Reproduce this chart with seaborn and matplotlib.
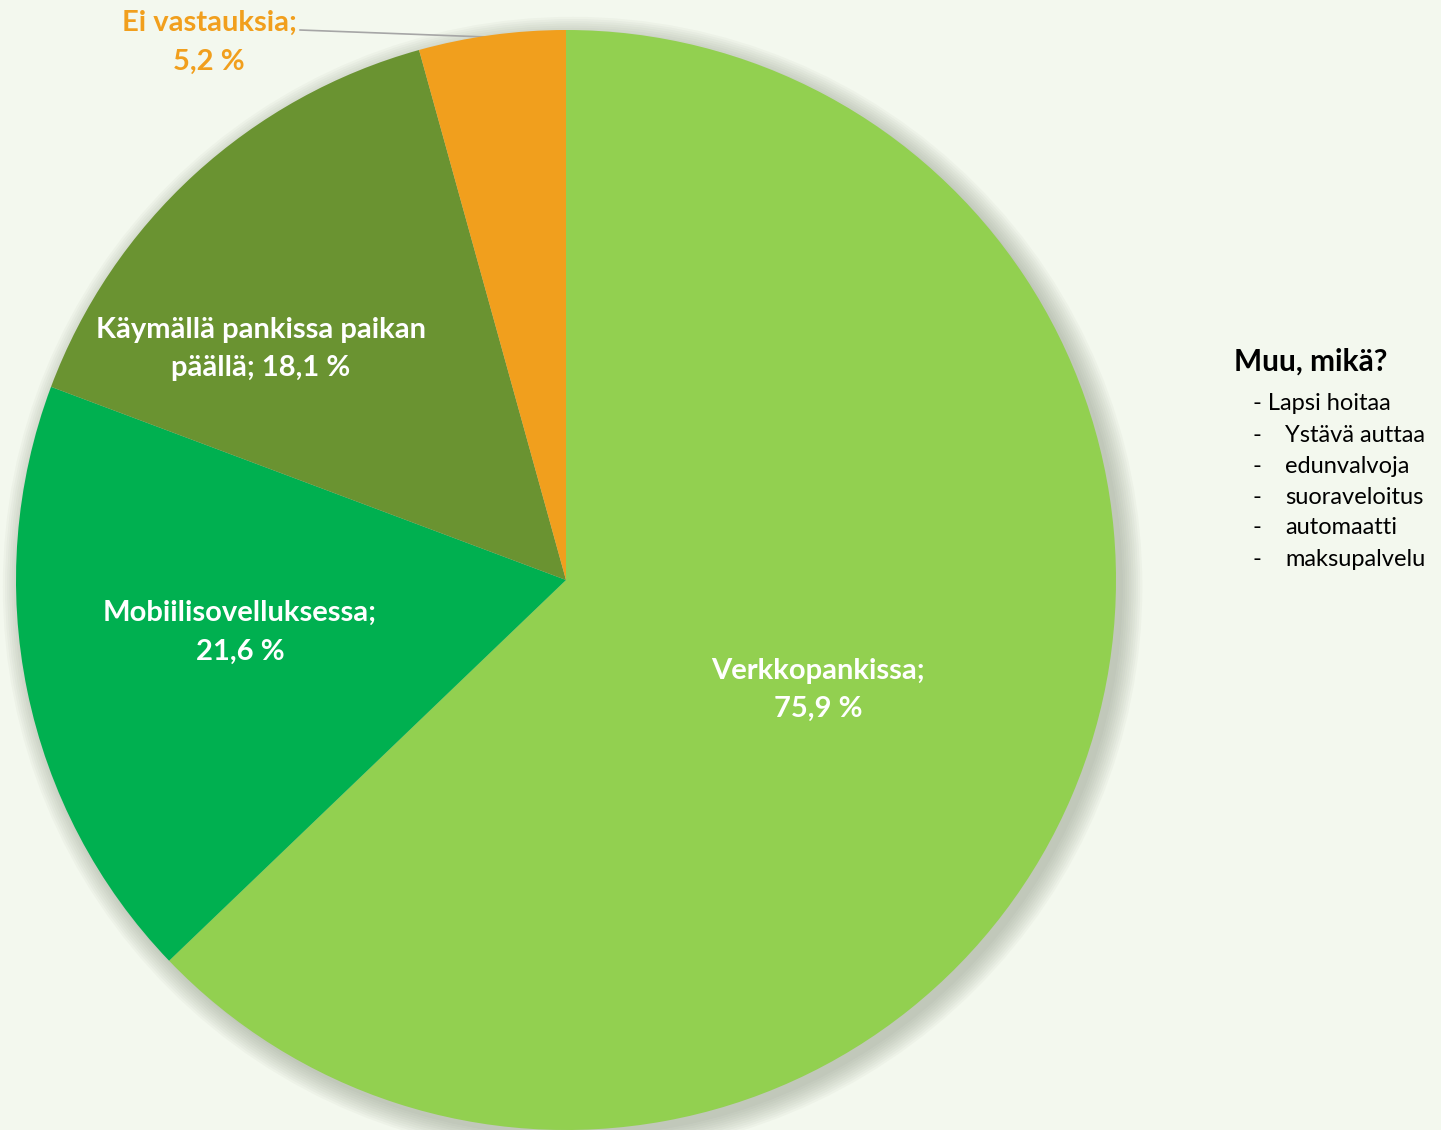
import numpy as np
import matplotlib.pyplot as plt
import seaborn as sns
from matplotlib.patches import Circle

# survey answers (multiple choice, so the shares sum over 100 %)
categories = ["Verkkopankissa", "Mobiilisovelluksessa",
              "Käymällä pankissa paikan\npäällä", "Ei vastauksia"]
values = [75.9, 21.6, 18.1, 5.2]
slice_colors = ["#92D050", "#00B050", "#6A9331", "#F19F1D"]
other_title = "Muu, mikä?"
other_items = ["- Lapsi hoitaa", "Ystävä auttaa", "edunvalvoja",
               "suoraveloitus", "automaatti", "maksupalvelu"]

bg = "#F3F8EE"
sns.set_theme(style="white")
plt.rcParams["font.family"] = ["Lato", "DejaVu Sans"]

W, H = 1441, 1130
fig = plt.figure(figsize=(W / 100, H / 100), dpi=100, facecolor=bg)
ax = fig.add_axes([16 / W, 0, 1100 / W, 1100 / H])
ax.set_facecolor(bg)

# soft shadow behind the pie
for k in range(10):
    ax.add_patch(Circle((0.012, -0.012), 1.0 + 0.004 * k, color="#7f8a78",
                        alpha=0.05, zorder=0, lw=0, clip_on=False))

wedges, _ = ax.pie(values, colors=slice_colors, startangle=90, counterclock=False,
                   radius=1.0, wedgeprops=dict(linewidth=0, zorder=2))
ax.set_xlim(-1, 1)
ax.set_ylim(-1, 1)
ax.set_aspect("equal")
ax.axis("off")

def pct(v):
    return str(v).replace(".", ",") + " %"

label_pos = [(0.458, -0.2), (-0.593, -0.095), (-0.555, 0.42)]
label_text = [
    f"{categories[0]};\n{pct(values[0])}",
    f"{categories[1]};\n{pct(values[1])}",
    f"{categories[2]}; {pct(values[2])}",
]
for (x, y), t in zip(label_pos, label_text):
    ax.text(x, y, t, ha="center", va="center", color="white", fontsize=21,
            fontweight="bold", linespacing=1.6, zorder=5)

# outside label with leader line
ax.plot([-0.484, -0.138], [1.0, 0.987], color="#A6A6A6", lw=1.2, zorder=1,
        clip_on=False)
ax.text(-0.649, 0.977, f"{categories[3]};\n{pct(values[3])}",
        ha="center", va="center", color=slice_colors[3], fontsize=21,
        fontweight="bold", linespacing=1.6, clip_on=False)

# free text answers
fig.text(1234 / W, 1 - 362 / H, other_title, ha="left", va="center",
         fontsize=21.5, fontweight="bold", color="black")
fig.text(1253 / W, 1 - 404 / H, other_items[0], ha="left", va="center",
         fontsize=17, color="black")
for j, item in enumerate(other_items[1:], start=1):
    y = 1 - (404 + 31 * j) / H
    fig.text(1253 / W, y, "-", ha="left", va="center", fontsize=17, color="black")
    fig.text(1285 / W, y, item, ha="left", va="center", fontsize=17, color="black")

fig.savefig("out.png", dpi=100, facecolor=bg)
